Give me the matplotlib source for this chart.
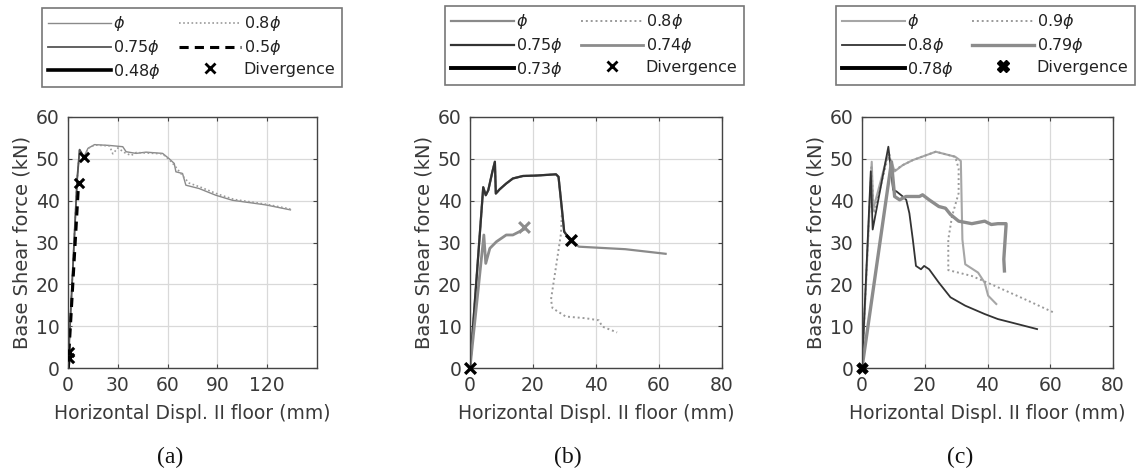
import matplotlib
matplotlib.use("Agg")
import matplotlib.pyplot as plt
from matplotlib.lines import Line2D

plt.rcParams['font.family'] = ['DejaVu Sans']
plt.rcParams['mathtext.fontset'] = 'dejavusans'

# ---------------- Panel (a) data ----------------
a_phi_x = [0, 5.5, 7, 9.6, 12, 16, 25, 33, 35, 41, 47, 57, 61, 64, 65, 69, 71, 79, 89, 99, 119, 134]
a_phi_y = [0, 45, 52.2, 50.4, 52.5, 53.4, 53.2, 52.9, 51.7, 51.3, 51.6, 51.3, 50, 48.9, 46.9, 46.5, 43.7, 42.9, 41.3, 40.1, 39.0, 37.8]
a_08_x = [0, 5.5, 7, 9.6, 12, 16, 25, 27, 30, 34, 38, 41, 47, 57, 61, 64, 66, 70, 73, 80, 90, 100, 120, 134]
a_08_y = [0, 45, 52.2, 50.4, 52.5, 53.3, 53.1, 51.2, 52.6, 51.5, 50.8, 51.5, 51.4, 51.2, 49.8, 48.5, 47.5, 45.5, 44.2, 43.2, 41.6, 40.3, 39.1, 38.0]
a_075_x = [0, 5.5, 7, 9.6]
a_075_y = [0, 45, 52.2, 50.4]
a_05_x = [0, 6.4]
a_05_y = [0, 44.3]
a_048_x = [0, 0.8]
a_048_y = [0, 3.8]
a_div_x = [0.8, 0.8, 6.4, 9.8]
a_div_y = [2.5, 3.8, 44.3, 50.5]
a_xticks = [0, 30, 60, 90, 120]

# ---------------- Panel (b) data ----------------
b_main_x = [0, 4.2, 5, 5.8, 7.1, 7.9, 8.2, 9.4, 11.5, 13.6, 16.8, 21, 27.3, 28.1, 29.2, 29.9, 32.2]
b_main_y = [0, 43.2, 41.3, 42.5, 46.9, 49.3, 41.7, 42.7, 44.1, 45.3, 45.9, 46.0, 46.3, 45.7, 37.8, 32.6, 30.2]
b_phi_tail_x = [32.2, 34.6, 49.3, 62.1]
b_phi_tail_y = [30.2, 29.0, 28.4, 27.3]
b_08_x = [0, 4.2, 5, 5.8, 7.1, 7.9, 8.2, 9.4, 11.5, 13.6, 16.8, 21, 27.3, 28.1, 29.2, 28.9, 27.3, 25.7, 26.2, 30.4, 36.7, 40.9, 42, 46.7]
b_08_y = [0, 43.2, 41.3, 42.5, 46.9, 49.3, 41.7, 42.7, 44.1, 45.3, 45.9, 46.0, 46.3, 45.7, 37.8, 32.2, 24.2, 16.3, 14.3, 12.3, 11.9, 11.4, 9.9, 8.5]
b_074_x = [0, 4.4, 5.0, 6.3, 8.4, 11.5, 13.6, 15.7, 17.0]
b_074_y = [0, 31.8, 25.0, 28.6, 30.2, 31.8, 31.8, 32.6, 33.1]
b_073_x = [0]
b_073_y = [0]
b_div_x = [0, 32.2]
b_div_y = [0, 30.5]
b_div74_x = [17.0]
b_div74_y = [33.8]
b_xticks = [0, 20, 40, 60, 80]

# ---------------- Panel (c) data ----------------
c_phi_x = [0, 3.1, 3.6, 8.0, 9.4, 10.4, 13, 16.2, 23.5, 29.7, 31.5, 32.0, 32.9, 37, 39.1, 40.2, 42.8]
c_phi_y = [0, 49.3, 38, 50.5, 49.3, 47.0, 48.5, 49.7, 51.7, 50.5, 49.5, 30.7, 24.8, 22.8, 20.4, 17.3, 15.3]
c_09_x = [0, 3.0, 3.8, 8.6, 9.9, 13, 16.2, 23.5, 29.7, 30.8, 30.8, 28.7, 27.5, 27.5, 35, 41.2, 51.7, 61]
c_09_y = [0, 48.0, 37, 51.5, 47.0, 48.5, 49.7, 51.7, 50.5, 47.7, 41.8, 36.3, 30.7, 23.4, 22.0, 20.0, 16.5, 13.3]
c_08_x = [0, 2.8, 3.4, 8.4, 9.9, 11, 13, 14.1, 15.1, 16.2, 17.2, 18.8, 19.8, 21.4, 24.5, 28.2, 32.9, 39.1, 43.3, 47.5, 55.8]
c_08_y = [0, 47.0, 33.1, 52.9, 42.6, 42.2, 41.0, 40.2, 37.0, 30.7, 24.4, 23.6, 24.4, 23.6, 20.4, 16.9, 14.9, 12.9, 11.7, 10.9, 9.3]
c_079_x = [0, 9.4, 9.9, 10.4, 12, 14, 18.3, 19.3, 21.4, 24.5, 26.6, 28.2, 30.8, 35, 39.1, 41.2, 43.3, 45.9, 45.9, 45.4, 45.2, 45.4]
c_079_y = [0, 49.3, 45.0, 41.0, 40.2, 41.0, 41.0, 41.4, 40.2, 38.6, 38.2, 36.7, 35.1, 34.5, 35.1, 34.3, 34.5, 34.5, 33.9, 28.3, 26.0, 23.2]
c_078_x = [0]
c_078_y = [0]
c_div_x = [0]
c_div_y = [0]
c_xticks = [0, 20, 40, 60, 80]

W, H = 1136, 471
fig = plt.figure(figsize=(W / 100, H / 100), dpi=100)

TICKC = '#3a3a3a'
AXC = '#444444'


def style_axes(ax, xmax, xticks):
    ax.set_xlim(0, xmax)
    ax.set_ylim(0, 60)
    ax.set_xticks(xticks)
    ax.set_yticks(range(0, 61, 10))
    ax.grid(True, color='#d9d9d9', linewidth=0.9)
    ax.set_axisbelow(True)
    for s in ax.spines.values():
        s.set_color(AXC)
        s.set_linewidth(1.0)
    ax.tick_params(direction='in', length=3, colors=AXC, labelcolor=TICKC, labelsize=13.5,
                   top=True, right=True, pad=6)
    ax.set_xlabel('Horizontal Displ. II floor (mm)', fontsize=13.5, color=TICKC, labelpad=6)
    ax.set_ylabel('Base Shear force (kN)', fontsize=14, color=TICKC, labelpad=3)


def make_legend(ax, handles, labels, anchor):
    # ncol=2 fills column-wise
    order = [0, 2, 4, 1, 3, 5]
    h = [handles[i] for i in order]
    l = [labels[i] for i in order]
    leg = ax.legend(h, l, ncol=2, loc='upper left', bbox_to_anchor=anchor,
                    bbox_transform=fig.transFigure, fontsize=11.5, frameon=True,
                    fancybox=False, edgecolor='#555555', handlelength=3.9,
                    handletextpad=0.15, columnspacing=1.15, labelspacing=0.3,
                    borderpad=0.4, borderaxespad=0)
    leg.get_frame().set_linewidth(1.2)
    for t in leg.get_texts():
        t.set_color('#222222')
    return leg


PHI = r'$\phi$'

# ---------------- Panel (a) ----------------
axa = fig.add_axes([68 / W, 1 - 368 / H, 249 / W, 251 / H])
style_axes(axa, 150, a_xticks)
l1, = axa.plot(a_phi_x, a_phi_y, color='#8a8a8a', lw=1.0)
l2, = axa.plot(a_08_x, a_08_y, color='#9a9a9a', lw=1.2, ls=(0, (1, 1.5)))
l3, = axa.plot(a_075_x, a_075_y, color='#555555', lw=1.3)
l4, = axa.plot(a_05_x, a_05_y, color='black', lw=2.2, ls=(0, (3, 2)))
l5, = axa.plot(a_048_x, a_048_y, color='black', lw=2.6)
axa.scatter(a_div_x, a_div_y, marker='x', s=45, color='black', linewidths=2.2, zorder=5)
make_legend(axa,
            [l1, l2, l3, l4, l5, Line2D([], [], ls='none', marker='x', color='black', markersize=7, mew=2)],
            [PHI, '0.8' + PHI, '0.75' + PHI, '0.5' + PHI, '0.48' + PHI, 'Divergence'],
            (42 / W, 1 - 8 / H))

# ---------------- Panel (b) ----------------
axb = fig.add_axes([470 / W, 1 - 368 / H, 252 / W, 251 / H])
style_axes(axb, 80, b_xticks)
m1, = axb.plot(b_main_x + b_phi_tail_x[1:], b_main_y + b_phi_tail_y[1:], color='#8a8a8a', lw=1.6)
m2, = axb.plot(b_08_x, b_08_y, color='#9a9a9a', lw=1.4, ls=(0, (1, 1.5)))
m3, = axb.plot(b_main_x, b_main_y, color='#333333', lw=1.6)
m4, = axb.plot(b_074_x, b_074_y, color='#8c8c8c', lw=2.0)
axb.plot(b_073_x, b_073_y, color='black', lw=2.8)
axb.scatter(b_div74_x, b_div74_y, marker='x', s=60, color='#8c8c8c', linewidths=2.2, zorder=5)
axb.scatter(b_div_x, b_div_y, marker='x', s=60, color='black', linewidths=2.4, zorder=6, clip_on=False)
make_legend(axb,
            [m1, m2, m3, m4, Line2D([], [], color='black', lw=2.8),
             Line2D([], [], ls='none', marker='x', color='black', markersize=7, mew=2)],
            [PHI, '0.8' + PHI, '0.75' + PHI, '0.74' + PHI, '0.73' + PHI, 'Divergence'],
            (445 / W, 1 - 6 / H))

# ---------------- Panel (c) ----------------
axc = fig.add_axes([862 / W, 1 - 368 / H, 251 / W, 251 / H])
style_axes(axc, 80, c_xticks)
n1, = axc.plot(c_phi_x, c_phi_y, color='#a6a6a6', lw=1.5)
n2, = axc.plot(c_09_x, c_09_y, color='#9a9a9a', lw=1.4, ls=(0, (1, 1.5)))
n3, = axc.plot(c_08_x, c_08_y, color='#333333', lw=1.3)
n4, = axc.plot(c_079_x, c_079_y, color='#8c8c8c', lw=2.4)
axc.plot(c_078_x, c_078_y, color='black', lw=2.8)
axc.scatter(c_div_x, c_div_y, marker='X', s=70, color='black', linewidths=0.5, zorder=6, clip_on=False)
make_legend(axc,
            [n1, n2, n3, n4, Line2D([], [], color='black', lw=2.8),
             Line2D([], [], ls='none', marker='X', color='black', markersize=8)],
            [PHI, '0.9' + PHI, '0.8' + PHI, '0.79' + PHI, '0.78' + PHI, 'Divergence'],
            (836 / W, 1 - 6 / H))

# captions
for x, s in [(170, '(a)'), (568, '(b)'), (960, '(c)')]:
    fig.text(x / W, 1 - 457 / H, s, ha='center', va='center', fontsize=17,
             family='Liberation Serif', color='#111111')

fig.savefig('out.png', dpi=100, facecolor='white')
